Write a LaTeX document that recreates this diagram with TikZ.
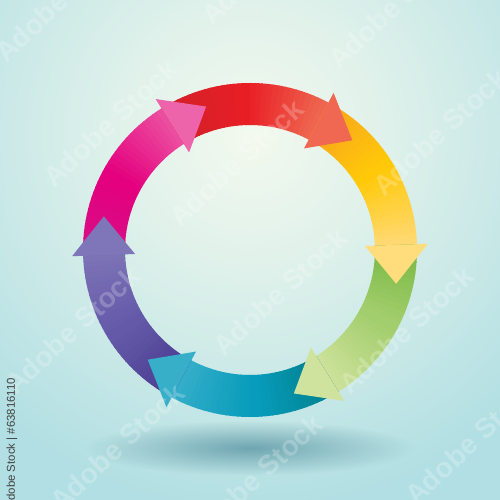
\documentclass[tikz,border=0pt]{standalone}
\usepackage{fontspec}
\setsansfont{Liberation Sans}
\usetikzlibrary{fadings}

% Cores
\definecolor{fundo}{HTML}{B2DFE3}
\definecolor{brilho}{HTML}{F3F9EE}
\definecolor{sombra}{HTML}{6FA6B1}
\definecolor{mgA}{HTML}{D60F87}\definecolor{mgB}{HTML}{E4007E}\definecolor{mgC}{HTML}{EB4D9F}
\definecolor{rdA}{HTML}{D12028}\definecolor{rdB}{HTML}{E81E25}\definecolor{rdC}{HTML}{EF6650}
\definecolor{yeA}{HTML}{F8A41B}\definecolor{yeB}{HTML}{FFC90A}\definecolor{yeC}{HTML}{FFD872}
\definecolor{grA}{HTML}{78B843}\definecolor{grB}{HTML}{A3CE6D}\definecolor{grC}{HTML}{CBE199}
\definecolor{cyA}{HTML}{00808D}\definecolor{cyB}{HTML}{079CBB}\definecolor{cyC}{HTML}{33ADC9}
\definecolor{puA}{HTML}{4A3C91}\definecolor{puB}{HTML}{6459A8}\definecolor{puC}{HTML}{7C72B6}
\definecolor{mgP}{HTML}{EE64AB}\definecolor{rdP}{HTML}{F06852}\definecolor{yeP}{HTML}{FFDC7C}
\definecolor{grP}{HTML}{D0E39E}\definecolor{cyP}{HTML}{37AFC9}\definecolor{puP}{HTML}{7E76B8}

\pgfdeclareradialshading{luz}{\pgfpoint{0bp}{0bp}}{color(0bp)=(brilho); color(9bp)=(brilho!70!fundo); color(25bp)=(fundo); color(50bp)=(fundo)}
\tikzfading[name=esfuma, inner color=transparent!0, outer color=transparent!100]

\tikzset{
  marca/.style={white, opacity=0.22, rotate=43, font=\sffamily\bfseries\fontsize{16}{16}\selectfont},
  legenda/.style={black!75, rotate=90, font=\sffamily\fontsize{6.5}{6.5}\selectfont}
}

\begin{document}
\begin{tikzpicture}
    \useasboundingbox (0,0) rectangle (10,10);
    \clip (0,0) rectangle (10,10);

    % Fundo
    \fill[fundo] (0,0) rectangle (10,10);
    \shade[shading=luz] (5,7.3) circle (7.5);

    % Sombra
    \fill[sombra, path fading=esfuma] (5,1.04) ellipse (3.3 and 0.55);

    % Anel
    \begin{scope}[shift={(5,5)}]
        \def\rext{3.34}
        \def\rint{2.5}
        % corpos
        \foreach \b/\ca/\cb/\cc in {122/mgA/mgB/mgC, 62/rdA/rdB/rdC, 2/yeA/yeB/yeC,
                                    -58/grA/grB/grC, -118/cyA/cyB/cyC, -178/puA/puB/puC}{
            \foreach \i in {0,...,29}{
                \pgfmathsetmacro{\anga}{\b+60-2*\i}
                \pgfmathsetmacro{\angb}{\anga-2.4}
                \ifnum\i<15
                    \pgfmathtruncatemacro{\p}{round(100*\i/14)}
                    \colorlet{fatia}{\cb!\p!\ca}
                \else
                    \pgfmathtruncatemacro{\p}{round(100*(\i-15)/14)}
                    \colorlet{fatia}{\cc!\p!\cb}
                \fi
                \fill[fatia] (\anga:\rext) arc[start angle=\anga, end angle=\angb, radius=\rext]
                    -- (\angb:\rint) arc[start angle=\angb, end angle=\anga, radius=\rint] -- cycle;
            }
        }
        % pontas
        \foreach \b/\ch in {122/mgP, 62/rdP, 2/yeP, -58/grP, -118/cyP, -178/puP}{
            \pgfmathsetmacro{\ponta}{\b-15}
            \fill[\ch] (\b:3.56) -- (\ponta:3.0) -- (\b:2.30) -- cycle;
        }
    \end{scope}

    % Marcas
    \foreach \x/\y in {4.72/6.74, 5.6/4.16, 2.2/7.54, 8.8/7.36, 8.12/3.4, 1.44/3.4,
                       2.34/1.06, 5.1/0.44, 9.44/1.18, 1.24/10.04, 5.36/10.78, 7.9/9.9}
        \node[marca] at (\x,\y) {Adobe Stock};

    \node[legenda] (id) at (0.24,1.14) {Adobe Stock | \#63816110};
\end{tikzpicture}
\end{document}
